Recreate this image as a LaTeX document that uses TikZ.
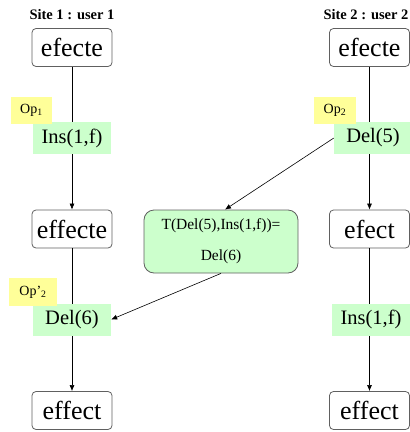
\documentclass[tikz,border=0pt]{standalone}
\usepackage{fontspec}
\setmainfont{Liberation Serif}
\usetikzlibrary{arrows.meta,calc}
\definecolor{opgreen}{HTML}{CCFFCC}
\definecolor{opyellow}{HTML}{FFFF99}
\definecolor{boxgray}{HTML}{606060}
\begin{document}
\begin{tikzpicture}[x=1pt,y=-1pt,
  state/.style={draw=boxgray,fill=white,rounded corners=4pt,minimum width=80pt,minimum height=38pt,inner sep=0pt,line width=0.8pt,font=\fontsize{26}{28}\selectfont},
  opbox/.style={fill=opgreen,minimum width=78pt,minimum height=32pt,inner sep=0pt,font=\fontsize{20.5}{22}\selectfont},
  tagbox/.style={fill=opyellow,minimum height=27pt,inner sep=0pt,font=\fontsize{14}{16}\selectfont},
  titletext/.style={font=\bfseries\fontsize{14.5}{16}\selectfont,inner sep=0pt},
  transbox/.style={draw=boxgray,fill=opgreen,rounded corners=10pt,minimum width=154pt,minimum height=63pt,inner sep=0pt,line width=0.8pt,align=center,font=\fontsize{15.5}{31}\selectfont},
  flow/.style={draw,line width=0.6pt,-{Latex[length=6pt,width=5pt]}}
  ]
\useasboundingbox (0,0) rectangle (410,432);

% titles
\node[titletext] (t1) at (72,15) {Site 1 : user 1};
\node[titletext] (t2) at (366,15) {Site 2 : user 2};

% states
\node[state] (a1) at (72,47.5) {efecte};
\node[state] (a2) at (72,229) {effecte};
\node[state] (a3) at (72,410.5) {effect};
\node[state] (b1) at (369.5,47.5) {efecte};
\node[state] (b2) at (369.5,229) {efect};
\node[state] (b3) at (369.5,410.5) {effect};

% vertical flows
\draw[flow] (a1) -- (a2);
\draw[flow] (a2) -- (a3);
\draw[flow] (b1) -- (b2);
\draw[flow] (b2) -- (b3);

% operations
\node[opbox] (o1) at (72,138) {Ins(1,f)};
\node[opbox] (o2) at (373,138) {Del(5)};
\node[opbox] (o6) at (72,319.5) {Del(6)};
\node[opbox] (o4) at (371,319.5) {Ins(1,f)};

% tags
\node[tagbox,minimum width=41pt] (g1) at (31.5,110.5) {Op\textsubscript{1}};
\node[tagbox,minimum width=42pt] (g2) at (335,110.5) {Op\textsubscript{2}};
\node[tagbox,minimum width=48pt,minimum height=28pt] (g3) at (33,292) {Op’\textsubscript{2}};

% transformation
\node[transbox] (tr) at (221,241.5) {T(Del(5),Ins(1,f))=\\Del(6)};

\draw[flow] (o2.west) -- ($(tr.north)+(4,0)$);
\draw[flow] (tr.south) -- (o6.east);
\end{tikzpicture}
\end{document}
